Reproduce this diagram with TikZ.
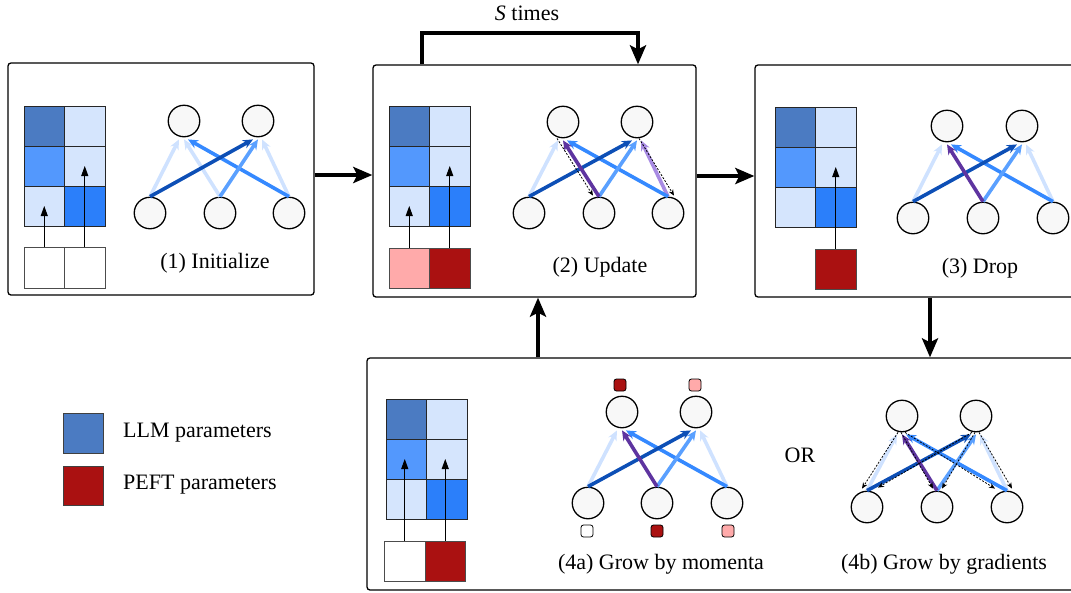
\documentclass[tikz,border=0pt]{standalone}
\usepackage{fontspec}
\setmainfont{Liberation Serif}
\newfontfamily\figfont{Liberation Serif}
\usetikzlibrary{arrows.meta}

% cell and parameter colours
\definecolor{cdark}{HTML}{4B7BC2}
\definecolor{cmed}{HTML}{5398FD}
\definecolor{clight}{HTML}{D5E5FD}
\definecolor{cbright}{HTML}{2B7FFA}
% connection colours
\definecolor{edark}{HTML}{0D4FB6}
\definecolor{emed}{HTML}{5AA0FF}
\definecolor{ebright}{HTML}{3589FF}
\definecolor{elight}{HTML}{CFE2FF}
\definecolor{epurple}{HTML}{5E34A0}
\definecolor{elav}{HTML}{A88BE3}
\definecolor{ppink}{HTML}{FFAAAA}
\definecolor{pred}{HTML}{AA1111}
\definecolor{nfill}{HTML}{F8F8F8}

\tikzset{
  panel/.style={draw, line width=1.3pt, rounded corners=3pt, inner sep=0pt},
  cell/.style={draw=black!85, line width=0.9pt, minimum width=40.5pt, minimum height=40pt, inner sep=0pt},
  pbox/.style={draw=black!70, line width=0.9pt, minimum width=40.5pt, minimum height=40pt, inner sep=0pt},
  neuron/.style={circle, draw, line width=1.3pt, fill=nfill, minimum size=31.5pt, inner sep=0pt},
  edge/.style={line width=3.6pt, -{Stealth[length=10pt,width=9pt]}},
  feed/.style={line width=0.9pt, -{Triangle[length=10pt,width=7pt]}},
  grad/.style={line width=0.8pt, dash pattern=on 2pt off 1.5pt, -{Stealth[length=6pt,width=5pt]}},
  bigarrow/.style={line width=4pt, line join=miter, -{Stealth[length=19pt,width=16pt,inset=4pt]}},
  lbl/.style={font=\figfont\fontsize{22}{26}\selectfont, inner sep=0pt},
  momtag/.style={draw, line width=0.8pt, rounded corners=2.5pt, minimum size=12pt, inner sep=0pt},
}

% 3x2 grid of model parameters, top-left corner at (#2,#3)
\newcommand\paramgrid[3]{%
  \begin{scope}[shift={(#2,#3)}]
    \node[cell, fill=cdark]   (#1-00) at (20.25,20) {};
    \node[cell, fill=clight]  (#1-01) at (60.75,20) {};
    \node[cell, fill=cmed]    (#1-10) at (20.25,60) {};
    \node[cell, fill=clight]  (#1-11) at (60.75,60) {};
    \node[cell, fill=clight]  (#1-20) at (20.25,100) {};
    \node[cell, fill=cbright] (#1-21) at (60.75,100) {};
  \end{scope}}

% two output neurons and three input neurons
\newcommand\netnodes[8]{%
  \node[neuron] (#1t1) at (#2,#4) {};
  \node[neuron] (#1t2) at (#3,#4) {};
  \node[neuron] (#1b1) at (#5,#8) {};
  \node[neuron] (#1b2) at (#6,#8) {};
  \node[neuron] (#1b3) at (#7,#8) {};}

% weighted connection from an input neuron to an output neuron
\newcommand\linkedge[4]{\draw[edge, draw=#1] (#2.north) -- ([xshift=#4pt,yshift=-2pt]#3.south);}

% update arrow from a PEFT block into a parameter cell
\newcommand\feedarrow[2]{\draw[feed] (#1.north) -- (#1.north |- #2.center);}

\begin{document}
\begin{tikzpicture}[x=1pt, y=-1pt]
\useasboundingbox (0,0) rectangle (1071,592);

% ---------- panels ----------
\node[panel, minimum width=306pt, minimum height=232pt] (p1) at (161,179) {};
\node[panel, minimum width=323pt, minimum height=232pt] (p2) at (534.5,181) {};
\node[panel, minimum width=345pt, minimum height=232pt] (p3) at (927.5,181) {};
\node[panel, minimum width=733pt, minimum height=232pt] (p4) at (733.5,474) {};

% ---------- (1) Initialize ----------
\paramgrid{g1}{24}{106}
\node[pbox, fill=white, minimum height=41pt] (a1) at (44.25,267.5) {};
\node[pbox, fill=white, minimum height=41pt] (a2) at (84.75,267.5) {};
\feedarrow{a1}{g1-20}
\feedarrow{a2}{g1-11}
\netnodes{n1}{184}{258}{121}{150}{220}{289}{213}
\linkedge{elight}{n1b1}{n1t1}{-5}
\linkedge{elight}{n1b2}{n1t1}{0}
\linkedge{elight}{n1b3}{n1t2}{4}
\linkedge{ebright}{n1b3}{n1t1}{4}
\linkedge{emed}{n1b2}{n1t2}{0}
\linkedge{edark}{n1b1}{n1t2}{-5}
\node[lbl] (l1) at (215,263) {(1) Initialize};

% ---------- (2) Update ----------
\paramgrid{g2}{389}{106}
\node[pbox, fill=ppink] (c1) at (409.25,268) {};
\node[pbox, fill=pred]  (c2) at (449.75,268) {};
\feedarrow{c1}{g2-20}
\feedarrow{c2}{g2-11}
\netnodes{n2}{563}{637}{122}{529}{599}{668}{213}
\linkedge{elight}{n2b1}{n2t1}{-5}
\linkedge{elav}{n2b3}{n2t2}{4}
\linkedge{ebright}{n2b3}{n2t1}{4}
\linkedge{emed}{n2b2}{n2t2}{0}
\linkedge{edark}{n2b1}{n2t2}{-5}
\linkedge{epurple}{n2b2}{n2t1}{0}
\draw[grad] ([xshift=-6pt]n2t1.south) -- ([xshift=-6pt,yshift=1pt]n2b2.north);
\draw[grad] ([xshift=2pt]n2t2.south) -- ([xshift=6pt,yshift=1pt]n2b3.north);
\node[lbl] (l2) at (600,267) {(2) Update};

% ---------- (3) Drop ----------
\paramgrid{g3}{775}{107}
\node[pbox, fill=pred] (d1) at (835.75,269) {};
\feedarrow{d1}{g3-11}
\netnodes{n3}{947}{1022}{126}{913}{983}{1053}{218}
\linkedge{elight}{n3b1}{n3t1}{-5}
\linkedge{elight}{n3b3}{n3t2}{4}
\linkedge{ebright}{n3b3}{n3t1}{4}
\linkedge{emed}{n3b2}{n3t2}{0}
\linkedge{edark}{n3b1}{n3t2}{-5}
\linkedge{epurple}{n3b2}{n3t1}{0}
\node[lbl] (l3) at (980,268) {(3) Drop};

% ---------- (4) Grow ----------
\paramgrid{g4}{386}{399}
\node[pbox, fill=white] (e1) at (404.75,561) {};
\node[pbox, fill=pred]  (e2) at (445.25,561) {};
\feedarrow{e1}{g4-10}
\feedarrow{e2}{g4-11}

% (4a) momenta
\netnodes{n4}{622}{696}{412}{588}{657}{727}{503}
\linkedge{elight}{n4b1}{n4t1}{-5}
\linkedge{elight}{n4b3}{n4t2}{4}
\linkedge{ebright}{n4b3}{n4t1}{4}
\linkedge{emed}{n4b2}{n4t2}{0}
\linkedge{edark}{n4b1}{n4t2}{-5}
\linkedge{epurple}{n4b2}{n4t1}{0}
\node[momtag, fill=pred]  (m1) at (620,385) {};
\node[momtag, fill=ppink] (m2) at (695,385) {};
\node[momtag, fill=white] (m3) at (587,531) {};
\node[momtag, fill=pred]  (m4) at (657,531) {};
\node[momtag, fill=ppink] (m5) at (728,531) {};
\node[lbl] (l4a) at (661,564) {(4a) Grow by momenta};

\node[lbl] (or) at (800,455) {OR};

% (4b) gradients
\netnodes{n5}{902}{976}{416}{867}{937}{1007}{507}
\linkedge{elight}{n5b1}{n5t1}{-5}
\linkedge{elight}{n5b3}{n5t2}{4}
\linkedge{ebright}{n5b3}{n5t1}{4}
\linkedge{emed}{n5b2}{n5t2}{0}
\linkedge{edark}{n5b1}{n5t2}{-5}
\linkedge{epurple}{n5b2}{n5t1}{0}
\draw[grad] ([xshift=-4pt]n5t1.south) -- ([xshift=-5pt,yshift=2pt]n5b1.north);
\draw[grad] ([xshift=-1pt]n5t1.south) -- ([xshift=-4pt,yshift=2pt]n5b2.north);
\draw[grad] ([xshift=3pt]n5t1.south) -- ([xshift=-12pt,yshift=2pt]n5b3.north);
\draw[grad] ([xshift=-4pt]n5t2.south) -- ([xshift=11pt,yshift=3pt]n5b1.north);
\draw[grad] ([xshift=-1pt]n5t2.south) -- ([xshift=5pt,yshift=2pt]n5b2.north);
\draw[grad] ([xshift=3pt]n5t2.south) -- ([xshift=5pt,yshift=2pt]n5b3.north);
\node[lbl] (l4b) at (944,564) {(4b) Grow by gradients};

% ---------- legend ----------
\node[cell, draw=black!75, fill=cdark, minimum width=40pt] (k1) at (83,433) {};
\node[cell, draw=black!75, fill=pred, minimum width=40pt, minimum height=39pt] (k2) at (83,485.5) {};
\node[lbl, anchor=west] (k1t) at (123,433) {LLM parameters};
\node[lbl, anchor=west] (k2t) at (123,485) {PEFT parameters};

% ---------- flow between steps ----------
\coordinate (loopL) at (422,33);
\coordinate (loopR) at (638,33);
\coordinate (downx) at (930,0);
\coordinate (upx) at (538,0);
\draw[bigarrow] ([yshift=4pt]p1.east) -- ([yshift=4pt]p1.east -| p2.west);
\draw[bigarrow] ([yshift=5pt]p2.east) -- ([yshift=5pt]p2.east -| p3.west);
\draw[bigarrow] (p3.south -| downx) -- (p4.north -| downx);
\draw[bigarrow] (p4.north -| upx) -- (p2.south -| upx);
\draw[bigarrow] (p2.north -| loopL) -- (loopL) -- (loopR) -- (p2.north -| loopR);
\node[lbl] (st) at (527,13) {\textit{S} times};
\end{tikzpicture}
\end{document}
